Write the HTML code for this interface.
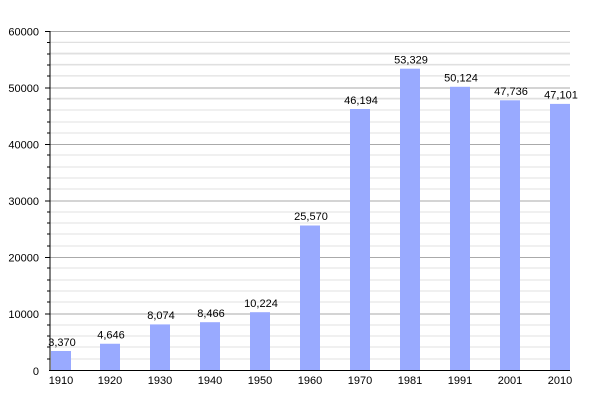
<!DOCTYPE html>
<html><head><style>body{margin:0;background:#fff}svg{display:block;font-family:"Liberation Sans",sans-serif}</style></head><body>
<svg width="600" height="400" xmlns="http://www.w3.org/2000/svg">
<g stroke="#e0e0e0" stroke-width="1">
<line x1="50" x2="570" y1="53.1" y2="53.1"/><line x1="50" x2="570" y1="64.4" y2="64.4"/><line x1="50" x2="570" y1="75.7" y2="75.7"/><line x1="50" x2="570" y1="98.3" y2="98.3"/><line x1="50" x2="570" y1="42.3" y2="42.3"/>
</g>
<g stroke="#e0e0e0">
<line x1="50" x2="570" y1="42.5" y2="42.5"/><line x1="50" x2="570" y1="54" y2="54"/><line x1="50" x2="570" y1="65" y2="65"/><line x1="50" x2="570" y1="76" y2="76"/>
<line x1="50" x2="570" y1="99" y2="99"/><line x1="50" x2="570" y1="110" y2="110"/><line x1="50" x2="570" y1="122" y2="122"/><line x1="50" x2="570" y1="133" y2="133"/>
<line x1="50" x2="570" y1="155" y2="155"/><line x1="50" x2="570" y1="167" y2="167"/><line x1="50" x2="570" y1="178" y2="178"/><line x1="50" x2="570" y1="189" y2="189"/>
<line x1="50" x2="570" y1="212" y2="212"/><line x1="50" x2="570" y1="223" y2="223"/><line x1="50" x2="570" y1="234" y2="234"/><line x1="50" x2="570" y1="246" y2="246"/>
<line x1="50" x2="570" y1="268" y2="268"/><line x1="50" x2="570" y1="280" y2="280"/><line x1="50" x2="570" y1="291" y2="291"/><line x1="50" x2="570" y1="302" y2="302"/>
<line x1="50" x2="570" y1="325" y2="325"/><line x1="50" x2="570" y1="336" y2="336"/><line x1="50" x2="570" y1="347" y2="347"/><line x1="50" x2="570" y1="359" y2="359"/>
</g>
<g stroke="#aaa">
<line x1="50" x2="570" y1="31.5" y2="31.5"/><line x1="50" x2="570" y1="88" y2="88"/><line x1="50" x2="570" y1="144.5" y2="144.5"/><line x1="50" x2="570" y1="201" y2="201"/><line x1="50" x2="570" y1="257.5" y2="257.5"/><line x1="50" x2="570" y1="314" y2="314"/>
</g>
<g fill="#99aaff">
<rect x="51" y="351" width="20" height="19"/><rect x="100" y="343.75" width="20" height="26.25"/><rect x="150" y="324.4" width="20" height="45.6"/><rect x="200" y="322.2" width="20" height="47.8"/><rect x="250" y="312.2" width="20" height="57.8"/><rect x="300" y="225.5" width="20" height="144.5"/><rect x="350" y="109" width="20" height="261"/><rect x="400" y="68.7" width="20" height="301.3"/><rect x="450" y="86.8" width="20" height="283.2"/><rect x="500" y="100.3" width="20" height="269.7"/><rect x="550" y="103.9" width="20" height="266.1"/>
</g>
<g stroke="#000">
<line x1="50" x2="50" y1="31" y2="371"/><line x1="49" x2="570" y1="370.5" y2="370.5"/>
<line x1="45" x2="50" y1="31.5" y2="31.5"/><line x1="45" x2="50" y1="88" y2="88"/><line x1="45" x2="50" y1="144.5" y2="144.5"/><line x1="45" x2="50" y1="201" y2="201"/><line x1="45" x2="50" y1="257.5" y2="257.5"/><line x1="45" x2="50" y1="314" y2="314"/>
<g stroke-width="1"><line x1="47" x2="50" y1="42.5" y2="42.5"/><line x1="47" x2="50" y1="54" y2="54"/><line x1="47" x2="50" y1="65" y2="65"/><line x1="47" x2="50" y1="76" y2="76"/><line x1="47" x2="50" y1="99" y2="99"/><line x1="47" x2="50" y1="110" y2="110"/><line x1="47" x2="50" y1="122" y2="122"/><line x1="47" x2="50" y1="133" y2="133"/><line x1="47" x2="50" y1="155" y2="155"/><line x1="47" x2="50" y1="167" y2="167"/><line x1="47" x2="50" y1="178" y2="178"/><line x1="47" x2="50" y1="189" y2="189"/><line x1="47" x2="50" y1="212" y2="212"/><line x1="47" x2="50" y1="223" y2="223"/><line x1="47" x2="50" y1="234" y2="234"/><line x1="47" x2="50" y1="246" y2="246"/><line x1="47" x2="50" y1="268" y2="268"/><line x1="47" x2="50" y1="280" y2="280"/><line x1="47" x2="50" y1="291" y2="291"/><line x1="47" x2="50" y1="302" y2="302"/><line x1="47" x2="50" y1="325" y2="325"/><line x1="47" x2="50" y1="336" y2="336"/><line x1="47" x2="50" y1="347" y2="347"/><line x1="47" x2="50" y1="359" y2="359"/></g>
</g>
<g font-size="11" text-anchor="end" fill="#000">
<text x="39" y="35.5">60000</text><text x="39" y="92">50000</text><text x="39" y="148.5">40000</text><text x="39" y="205">30000</text><text x="39" y="261.5">20000</text><text x="39" y="318">10000</text><text x="39" y="375">0</text>
</g>
<g font-size="11" text-anchor="middle" fill="#000">
<text x="61" y="384">1910</text><text x="110" y="384">1920</text><text x="160" y="384">1930</text><text x="210" y="384">1940</text><text x="260" y="384">1950</text><text x="310" y="384">1960</text><text x="360" y="384">1970</text><text x="410" y="384">1981</text><text x="460" y="384">1991</text><text x="510" y="384">2001</text><text x="560" y="384">2010</text>
<text x="62" y="346">3,370</text><text x="111" y="338.5">4,646</text><text x="161" y="319">8,074</text><text x="211" y="317">8,466</text><text x="261" y="307">10,224</text><text x="311" y="220">25,570</text><text x="361" y="104">46,194</text><text x="411" y="63.5">53,329</text><text x="461" y="81.5">50,124</text><text x="511" y="95">47,736</text><text x="561" y="98.5">47,101</text>
</g>
</svg>
</body></html>
